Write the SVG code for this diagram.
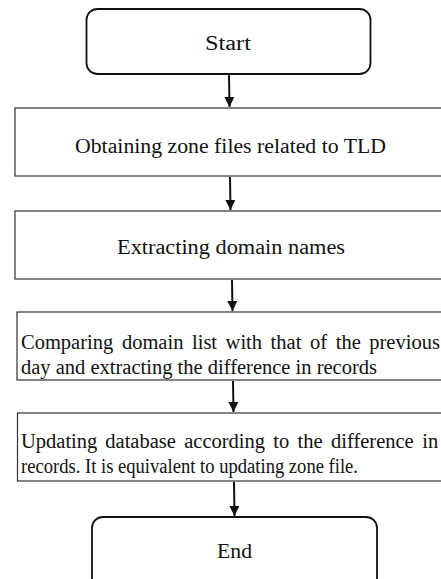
<svg xmlns="http://www.w3.org/2000/svg" width="441" height="579" viewBox="0 0 441 579">
<style>
.term{fill:#fff;stroke:#111;stroke-width:1.8}
.proc{fill:#fff;stroke:#333;stroke-width:1.2}
.t{font-family:"Liberation Serif","Times New Roman",serif;font-size:20.5px;fill:#111}
.c{stroke:#111;stroke-width:2;fill:none}
</style>
<defs>
<marker id="ah" viewBox="0 0 10 12" refX="10" refY="6" markerWidth="10" markerHeight="12" markerUnits="userSpaceOnUse" orient="auto">
<path d="M0,1 L10,6 L0,11 z" fill="#111"/>
</marker>
</defs>
<rect width="441" height="579" fill="#fff"/>
<g id="connectors">
<line class="c" x1="229" y1="75" x2="229.5" y2="107" marker-end="url(#ah)"/>
<line class="c" x1="230" y1="177" x2="230.5" y2="210" marker-end="url(#ah)"/>
<line class="c" x1="232" y1="280" x2="232.5" y2="311" marker-end="url(#ah)"/>
<line class="c" x1="233" y1="381" x2="233.5" y2="412" marker-end="url(#ah)"/>
<line class="c" x1="234" y1="482" x2="234.5" y2="516" marker-end="url(#ah)"/>
</g>
<g id="start">
<rect class="term" x="86.5" y="9" width="284" height="65" rx="11"/>
<text class="t" x="205" y="50" textLength="46" lengthAdjust="spacingAndGlyphs">Start</text>
</g>
<g id="obtain">
<rect class="proc" x="15" y="108" width="440" height="68"/>
<text class="t" x="75" y="153" textLength="311" lengthAdjust="spacingAndGlyphs">Obtaining zone files related to TLD</text>
</g>
<g id="extract">
<rect class="proc" x="15" y="211" width="440" height="68"/>
<text class="t" x="117" y="254" textLength="228" lengthAdjust="spacingAndGlyphs">Extracting domain names</text>
</g>
<g id="compare">
<rect class="proc" x="17" y="312" width="440" height="68"/>
<text class="t" y="349"><tspan x="21">Comparing</tspan><tspan x="121.9">domain</tspan><tspan x="192">list</tspan><tspan x="225.6">with</tspan><tspan x="270.6">that</tspan><tspan x="310">of</tspan><tspan x="335.7">the</tspan><tspan x="369.3">previous</tspan></text>
<text class="t" x="21" y="374" textLength="356" lengthAdjust="spacingAndGlyphs">day and extracting the difference in records</text>
</g>
<g id="update">
<rect class="proc" x="17.5" y="413" width="440" height="68"/>
<text class="t" y="448"><tspan x="21">Updating</tspan><tspan x="105.3">database</tspan><tspan x="184.2">according</tspan><tspan x="273.3">to</tspan><tspan x="297.6">the</tspan><tspan x="331">difference</tspan><tspan x="422.3">in</tspan></text>
<text class="t" x="21" y="473" textLength="337" lengthAdjust="spacingAndGlyphs">records. It is equivalent to updating zone file.</text>
</g>
<g id="end">
<rect class="term" x="92" y="517" width="285" height="75" rx="11"/>
<text class="t" x="217" y="558" textLength="35" lengthAdjust="spacingAndGlyphs">End</text>
</g>
</svg>
